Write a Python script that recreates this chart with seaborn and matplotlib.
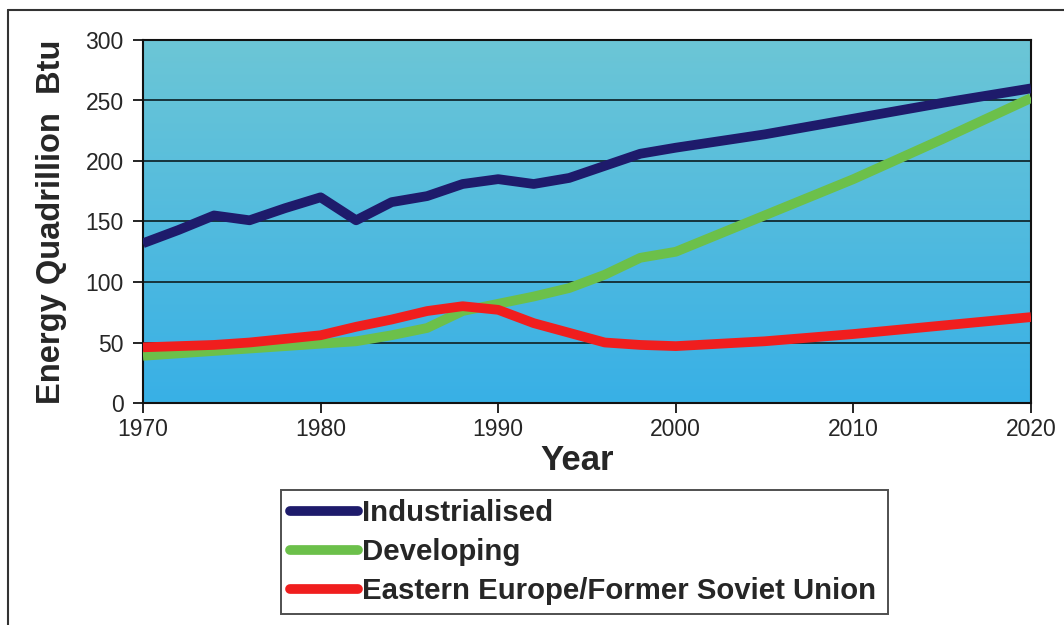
import numpy as np
import pandas as pd
import matplotlib
matplotlib.use("Agg")
import matplotlib.pyplot as plt
from matplotlib.colors import LinearSegmentedColormap
from matplotlib.lines import Line2D
import seaborn as sns

years = [1970, 1972, 1974, 1976, 1978, 1980, 1982, 1984, 1986, 1988,
         1990, 1992, 1994, 1996, 1998, 2000, 2005, 2010, 2015, 2020]
industrialised = [132, 143, 155, 151, 161, 170, 151, 166, 171, 181,
                  185, 181, 186, 196, 206, 211, 222, 235, 248, 260]
developing = [39, 41, 43, 45, 47, 49, 51, 56, 62, 76,
              82, 88, 95, 106, 120, 125, 155, 185, 218, 252]
eastern = [46, 47, 48, 50, 53, 56, 63, 69, 76, 80,
           77, 66, 58, 50, 48, 47, 51, 57, 64, 71]
series_names = ["Industrialised", "Developing",
                "Eastern Europe/Former Soviet Union"]
line_colors = ["#1e1b6b", "#6cc04a", "#f01e1e"]

df = pd.concat([
    pd.DataFrame({"Year": years, "Energy": vals, "Region": name})
    for name, vals in zip(series_names, [industrialised, developing, eastern])
])

sns.set_style("white")
plt.rcParams["font.family"] = ["Liberation Sans", "DejaVu Sans"]

fig = plt.figure(figsize=(10.64, 6.25), dpi=100, facecolor="white")
ax = fig.add_axes([143/1064, 1 - 403/625, (1031-143)/1064, (403-40)/625])

# gradient background of the plot area
cmap = LinearSegmentedColormap.from_list("bg", ["#38b0e6", "#6cc6d6"])
grad = np.linspace(0, 1, 256).reshape(-1, 1)
ax.imshow(grad, extent=[0, 1, 0, 1], transform=ax.transAxes, cmap=cmap,
          origin="lower", aspect="auto", zorder=-1)

sns.lineplot(data=df, x="Year", y="Energy", hue="Region", palette=line_colors,
             linewidth=7, ax=ax, legend=False, zorder=3)
for ln in ax.lines:
    ln.set_solid_joinstyle("round")
    ln.set_solid_capstyle("butt")

ax.set_xlim(1970, 2020)
ax.set_ylim(0, 300)
ax.set_xticks(range(1970, 2021, 10))
ax.set_yticks(range(0, 301, 50))
for y in range(50, 300, 50):
    ax.axhline(y, color="#16343c", linewidth=1.4, zorder=1)
ax.tick_params(axis="both", direction="out", length=7, width=1.2,
               labelsize=16.5, color="black", left=True, bottom=True)
ax.tick_params(axis="y", pad=7)
for s in ax.spines.values():
    s.set_color("#111111")
    s.set_linewidth(1.5)

ax.set_xlabel("Year", fontsize=25, fontweight="bold")
ax.xaxis.set_label_coords((577 - 143) / 888, -(444 - 403) / 363)
ax.set_ylabel("Energy Quadrillion  Btu", fontsize=23.5, fontweight="bold",
              labelpad=13)

handles = [Line2D([0], [0], color=c, linewidth=7, solid_capstyle="round")
           for c in line_colors]
leg = fig.legend(handles, series_names, loc="upper left",
                 bbox_to_anchor=(281/1064, 1 - 611/625, 607/1064, 121/625),
                 mode="expand", borderaxespad=0, fancybox=False,
                 prop={"weight": "bold", "size": 21.2}, handlelength=2.3,
                 handletextpad=0.15, labelspacing=0.38, borderpad=0.3)
leg.get_frame().set_edgecolor("#222222")
leg.get_frame().set_linewidth(1.4)

# outer chart border (top and left edges visible)
fig.add_artist(Line2D([8/1064, 1.0], [1 - 10/625, 1 - 10/625],
                      transform=fig.transFigure, color="#333333", linewidth=1.5))
fig.add_artist(Line2D([8/1064, 8/1064], [0.0, 1 - 10/625],
                      transform=fig.transFigure, color="#333333", linewidth=1.5))

fig.savefig("out.png", dpi=100, facecolor="white")
